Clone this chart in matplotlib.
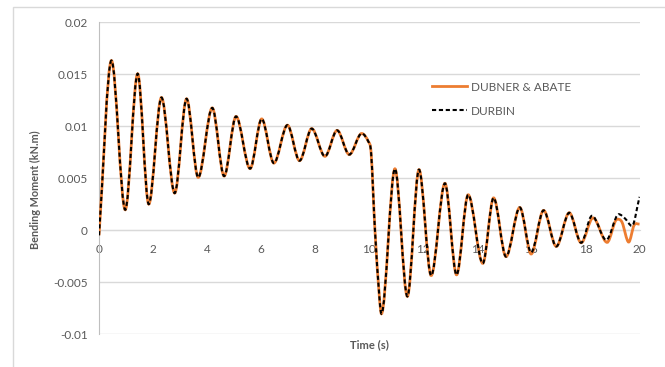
import numpy as np
import matplotlib
matplotlib.use('Agg')
import matplotlib.pyplot as plt
from matplotlib.path import Path
from matplotlib.patches import PathPatch, Rectangle
from matplotlib.lines import Line2D

# Key points (time s, bending moment kN.m) - both series agree up to ~15.6 s
t_common = [0.0, 0.46, 0.97, 1.43, 1.84, 2.31, 2.80, 3.24, 3.67, 4.19, 4.63,
            5.07, 5.59, 6.02, 6.47, 6.97, 7.42, 7.87, 8.36, 8.81, 9.26, 9.72,
            9.97, 10.07, 10.21, 10.37, 10.45, 10.95, 11.41, 11.84, 12.29, 12.80,
            13.23, 13.66, 14.20, 14.60, 15.06, 15.57]
m_common = [-0.0005, 0.01632, 0.00196, 0.01505, 0.00250, 0.01276, 0.00356, 0.01264,
            0.00507, 0.01176, 0.00520, 0.01094, 0.00592, 0.01070, 0.00645, 0.01010,
            0.00668, 0.00977, 0.00710, 0.00960, 0.00727, 0.00930, 0.00850, 0.00735,
            0.0, -0.0063, -0.00805, 0.00590, -0.00638, 0.00582, -0.00437, 0.00450,
            -0.00430, 0.00340, -0.00320, 0.00310, -0.00255, 0.00218]

# tails where the two solutions differ
t_dubner = [15.99, 16.45, 16.92, 17.40, 17.84, 18.28, 18.80, 19.17, 19.35, 19.60, 19.80, 20.0]
m_dubner = [-0.00230, 0.00190, -0.00157, 0.00167, -0.00122, 0.00118, -0.00118, 0.00105,
            0.00077, -0.00115, 0.00048, 0.00058]
t_durbin = [15.99, 16.45, 16.92, 17.40, 17.84, 18.24, 18.77, 19.23, 19.47, 19.72, 20.0]
m_durbin = [-0.00215, 0.00190, -0.00157, 0.00167, -0.00122, 0.00138, -0.00095, 0.00153,
            0.00110, 0.00040, 0.00320]

x_ticks = [0, 2, 4, 6, 8, 10, 12, 14, 16, 18, 20]
y_ticks = [-0.01, -0.005, 0, 0.005, 0.01, 0.015, 0.02]
y_labels = ['-0.01', '-0.005', '0', '0.005', '0.01', '0.015', '0.02']


def smooth_path(t, m):
    # Bezier path through the points (flat tangent at peaks, like Excel smoothing)
    t = np.asarray(t, float)
    m = np.asarray(m, float)
    n = len(t)
    s = np.zeros(n)
    for i in range(n):
        if i == 0:
            s[i] = (m[1] - m[0]) / (t[1] - t[0])
        elif i == n - 1:
            s[i] = (m[-1] - m[-2]) / (t[-1] - t[-2])
        elif (m[i] - m[i - 1]) * (m[i + 1] - m[i]) <= 0:
            s[i] = 0.0
        else:
            s[i] = (m[i + 1] - m[i - 1]) / (t[i + 1] - t[i - 1])
    verts = [(t[0], m[0])]
    codes = [Path.MOVETO]
    for i in range(n - 1):
        h = t[i + 1] - t[i]
        verts += [(t[i] + h / 3, m[i] + s[i] * h / 3),
                  (t[i + 1] - h / 3, m[i + 1] - s[i + 1] * h / 3),
                  (t[i + 1], m[i + 1])]
        codes += [Path.CURVE4] * 3
    return Path(verts, codes)


plt.rcParams['font.family'] = ['Lato', 'DejaVu Sans']
grey = '#595959'
orange = '#ED7D31'

fig = plt.figure(figsize=(6.65, 3.67), dpi=100)
fig.patches.append(Rectangle((0.0195, -0.1), 1.2, 1.081, transform=fig.transFigure,
                             fill=False, ec='#d9d9d9', lw=1))
ax = fig.add_axes([0.1489, 0.0899, 0.8128, 0.8493])

dub = smooth_path(t_common + t_dubner, m_common + m_dubner)
dur = smooth_path(t_common + t_durbin, m_common + m_durbin)
ax.add_patch(PathPatch(dub, fill=False, ec=orange, lw=2.0, zorder=3))
ax.add_patch(PathPatch(dur, fill=False, ec='black', lw=1.5, ls=(0, (2.0, 1.3)), zorder=4))

ax.set_xlim(0, 20)
ax.set_ylim(-0.01, 0.02)
ax.set_xticks(x_ticks)
ax.set_xticklabels([str(v) for v in x_ticks])
ax.set_yticks(y_ticks)
ax.set_yticklabels(y_labels)
ax.grid(axis='y', color='#d9d9d9', lw=1)
ax.set_axisbelow(True)

for side in ['top', 'right']:
    ax.spines[side].set_visible(False)
ax.spines['left'].set_color('#bfbfbf')
ax.spines['bottom'].set_position(('data', 0))
ax.spines['bottom'].set_color('#d9d9d9')
ax.tick_params(axis='both', length=0, labelsize=8.5, labelcolor=grey)
ax.tick_params(axis='y', pad=8)
ax.tick_params(axis='x', pad=10)

fig.text(0.555, 0.06, 'Time (s)', ha='center', va='center', fontsize=8,
         fontweight='bold', color=grey)
fig.text(0.053, 0.482, 'Bending Moment (kN.m)', ha='center', va='center', rotation=90,
         fontsize=7.8, fontweight='bold', color=grey)

handles = [Line2D([], [], color=orange, lw=2.0),
           Line2D([], [], color='black', lw=1.5, ls=(0, (2.0, 1.3)))]
ax.legend(handles, ['DUBNER & ABATE', 'DURBIN'], loc='upper left',
          bbox_to_anchor=(0.6154, 0.810), frameon=False, borderpad=0,
          borderaxespad=0, fontsize=8.5, labelcolor=grey, handlelength=3.0,
          handletextpad=0.3, labelspacing=1.1)

fig.savefig('out.png', dpi=100)
